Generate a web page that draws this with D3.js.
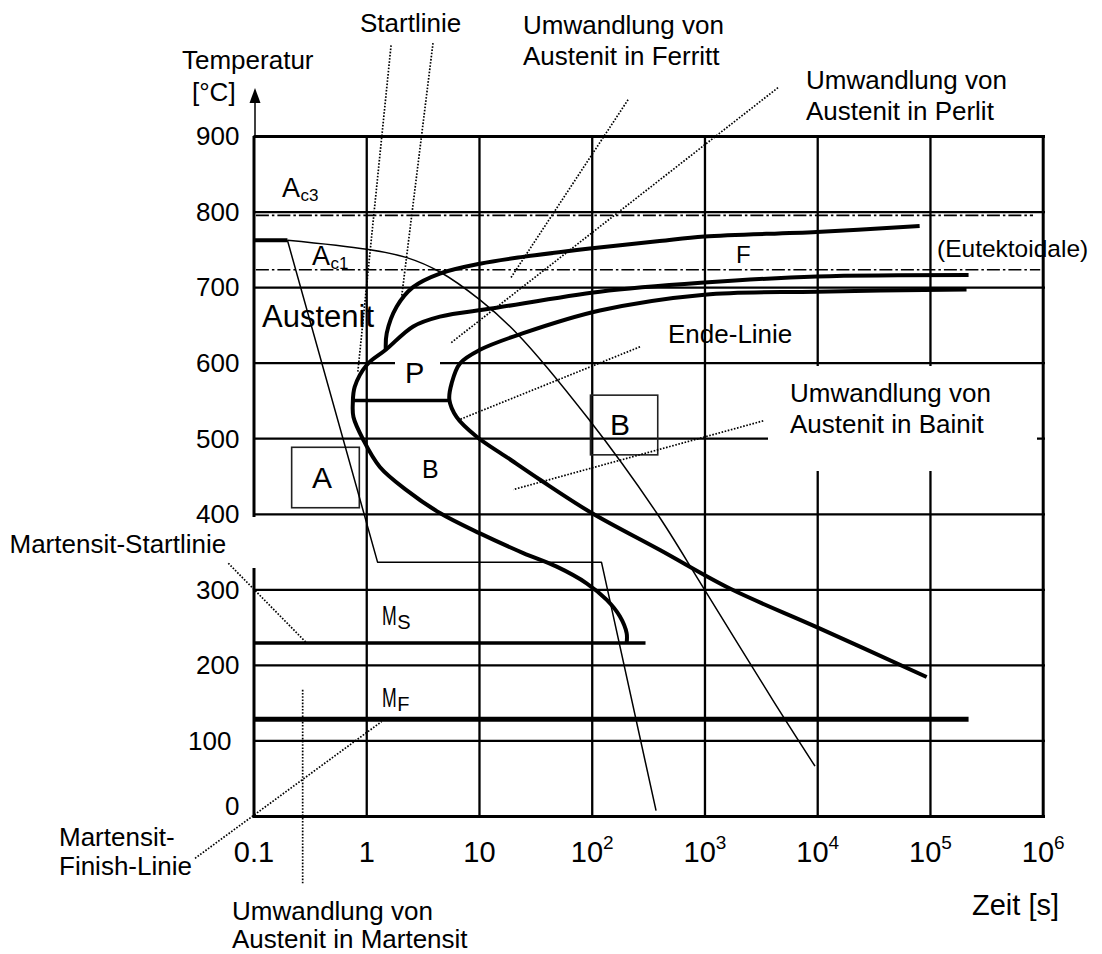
<!DOCTYPE html>
<html>
<head>
<meta charset="utf-8">
<script src="https://cdn.jsdelivr.net/npm/d3@7"></script>
<style>
  html, body { margin: 0; padding: 0; background: #fff; }
  svg text { font-family: "Liberation Sans", Arial, Helvetica, sans-serif; fill: #000; }
</style>
</head>
<body>
<svg id="chart" width="1102" height="954"></svg>
<script>
// ---- axes ----
const timeTicks = [0.1, 1, 10, 100, 1e3, 1e4, 1e5, 1e6];
const timeTickBase = ["0.1", "1", "10", "10", "10", "10", "10", "10"];
const timeTickExp = ["", "", "", "2", "3", "4", "5", "6"];
const tempTicks = [0, 100, 200, 300, 400, 500, 600, 700, 800, 900];

// ---- ZTU curves (time in s, temperature in °C) ----
// start of ferrite formation
const ferritTime = [1.49, 1.52, 1.86, 2.6, 4.5, 10.2, 24.5, 96, 400, 1000, 9900, 81000];
const ferritTemp = [617, 639, 674, 700, 718, 731, 740, 751, 761, 767, 773, 781];
// start line (pearlite above the nose, bainite below)
const startTime = [220000, 9900, 1000, 118, 13.4, 4.5, 2.61, 1.49, 1.01, 0.79, 0.76, 0.77, 0.94, 1.32, 2.29, 4.5, 10.2, 24.7, 48.9, 90, 136, 178, 204, 204];
const startTemp = [716, 714, 706, 694, 672, 661, 648, 617, 597, 568, 546, 528, 498, 462, 431, 401, 374, 348, 330, 308, 286, 264, 242, 229];
// end line
const endTime = [211000, 9900, 1000, 118, 24.7, 10.2, 6.78, 5.73, 5.46, 6.34, 9.55, 17.6, 34.8, 100, 403, 1680, 9900, 93500];
const endTemp = [697, 694, 690, 669, 639, 617, 599, 573, 551, 528, 502, 475, 445, 401, 352, 301, 250, 184];
// boundary between pearlite and bainite region
const noseTime = [0.76, 5.46];
const noseTemp = [550, 550];

// cooling paths
const holdTime = [0.1, 0.2];
const holdTemp = [762, 762];
const coolBTime = [0.2, 1.01, 2.29, 4.51, 10.2, 21.6, 93, 377, 970, 4050, 9550];
const coolBTemp = [762, 750, 739, 720, 683, 639, 526, 401, 303, 153, 66];
const coolATime = [0.2, 1.26, 122, 372];
const coolATemp = [762, 336, 336, 7];

// martensite start / finish
const msTime = [0.1, 300];
const msTemp = [229, 229];
const mfTime = [0.1, 220000];
const mfTemp = [128, 128];

// transformation temperatures (dash-dot)
const refTemps = [795, 723];
const refEnds = [8.2e5, 9.5e5];

// framed region markers
const boxTimeFrom = [0.218, 97.5];
const boxTimeTo = [0.868, 385];
const boxTempLow = [408, 478];
const boxTempHigh = [488, 557];

// dotted leaders (time, temperature)
const leaderFrom = [[1.66, 1020], [3.91, 1023], [210, 948], [4490, 964], [268, 621], [3320, 523], [0.0598, 334.5], [0.0303, -56], [0.273, 167]];
const leaderTo = [[0.84, 586], [2.06, 687], [19.1, 712], [5.61, 626], [6.55, 524], [20.1, 432], [0.296, 229], [1.37, 125], [0.273, -89]];

// ---- scales ----
const x = d3.scaleLog().domain([0.1, 1e6]).range([253.5, 1042.7]);
const y = d3.scaleLinear().domain([0, 900]).range([816, 136]);
const svg = d3.select("#chart");
const FONT = '"Liberation Sans", Arial, Helvetica, sans-serif';

// ---- horizontal grid + temperature labels ----
const yAxis = d3.axisLeft(y).tickValues(tempTicks)
  .tickSizeInner(-(1045 - 253.5)).tickSizeOuter(0).tickPadding(14)
  .tickFormat(d3.format("d"));
const gy = svg.append("g").attr("transform", "translate(253.5,0)").call(yAxis)
  .attr("font-family", FONT).attr("font-size", null);
gy.select(".domain").remove();
gy.selectAll(".tick line").attr("stroke", "#000")
  .attr("stroke-width", d => (d === 0 || d === 900) ? 3 : 2.3);
gy.selectAll(".tick text").attr("font-size", 26).attr("fill", "#000")
  .attr("dx", d => d === 100 ? -8 : 0)
  .attr("dy", d => d === 0 ? "-0.07em" : "0.34em");

// ---- vertical grid + time labels ----
const xAxis = d3.axisBottom(x).tickValues(timeTicks)
  .tickSizeInner(-(816 - 136)).tickSizeOuter(0).tickFormat(() => "");
const gx = svg.append("g").attr("transform", "translate(0,816)").call(xAxis)
  .attr("font-family", FONT).attr("font-size", null);
gx.select(".domain").remove();
gx.selectAll(".tick line").attr("stroke", "#000").attr("y1", 2)
  .attr("stroke-width", d => (d === 0.1 || d === 1e6) ? 3 : 2.3);
gx.selectAll(".tick text").each(function (d, i) {
  const t = d3.select(this).attr("y", 46).attr("dy", 0).attr("font-size", 29).attr("fill", "#000");
  t.append("tspan").text(timeTickBase[i]);
  if (timeTickExp[i]) t.append("tspan").attr("font-size", 19).attr("dy", -13).text(timeTickExp[i]);
});

// temperature axis arrow
svg.append("line").attr("x1", 255).attr("x2", 255).attr("y1", 100).attr("y2", y(900))
  .attr("stroke", "#000").attr("stroke-width", 1.5);
svg.append("path").attr("d", "M255,88 L249.5,103 L260.5,103 Z").attr("fill", "#000");

// ---- white cut-outs behind labels ----
const cut = svg.append("g").attr("fill", "#fff");
cut.append("rect").attr("x", 250).attr("y", 517).attr("width", 8).attr("height", 51);
cut.append("rect").attr("x", 395).attr("y", 358).attr("width", 45).attr("height", 10);
cut.append("rect").attr("x", 768).attr("y", 366).attr("width", 269).attr("height", 105);

// ---- dash-dot transformation lines ----
svg.append("g").selectAll("line").data(refTemps).join("line")
  .attr("x1", x(0.105)).attr("x2", (d, i) => x(refEnds[i]))
  .attr("y1", d => y(d)).attr("y2", d => y(d))
  .attr("stroke", "#000").attr("stroke-width", 1.6)
  .attr("stroke-dasharray", "13,3,2.5,3");

// ---- framed markers ----
svg.append("g").selectAll("rect").data(boxTimeFrom).join("rect")
  .attr("x", (d, i) => x(d)).attr("y", (d, i) => y(boxTempHigh[i]))
  .attr("width", (d, i) => x(boxTimeTo[i]) - x(d))
  .attr("height", (d, i) => y(boxTempLow[i]) - y(boxTempHigh[i]))
  .attr("fill", "none").attr("stroke", "#222").attr("stroke-width", 1.6);

// ---- curves ----
const smooth = d3.line().x(d => x(d[0])).y(d => y(d[1])).curve(d3.curveCatmullRom.alpha(0.5));
const straight = d3.line().x(d => x(d[0])).y(d => y(d[1]));
const curves = svg.append("g").attr("fill", "none").attr("stroke", "#000")
  .attr("stroke-linejoin", "round");

curves.append("path").attr("d", smooth(d3.zip(ferritTime, ferritTemp))).attr("stroke-width", 4);
curves.append("path").attr("d", smooth(d3.zip(startTime, startTemp))).attr("stroke-width", 4);
curves.append("path").attr("d", smooth(d3.zip(endTime, endTemp))).attr("stroke-width", 4);
curves.append("path").attr("d", straight(d3.zip(noseTime, noseTemp))).attr("stroke-width", 3.5);
curves.append("path").attr("d", straight(d3.zip(holdTime, holdTemp))).attr("stroke-width", 4);
curves.append("path").attr("d", straight(d3.zip(msTime, msTemp))).attr("stroke-width", 3.6);
curves.append("path").attr("d", straight(d3.zip(mfTime, mfTemp))).attr("stroke-width", 5);
curves.append("path").attr("d", smooth(d3.zip(coolBTime, coolBTemp))).attr("stroke-width", 1.5);
curves.append("path").attr("d", straight(d3.zip(coolATime, coolATemp))).attr("stroke-width", 1.5);

// ---- dotted leaders ----
svg.append("g").selectAll("line").data(leaderFrom).join("line")
  .attr("x1", d => x(d[0])).attr("y1", d => y(d[1]))
  .attr("x2", (d, i) => x(leaderTo[i][0])).attr("y2", (d, i) => y(leaderTo[i][1]))
  .attr("stroke", "#000").attr("stroke-width", 1.7).attr("stroke-dasharray", "1.6,1.6");

// ---- text ----
const labels = [
  { x: 182, y: 69, s: 26, t: "Temperatur" },
  { x: 192, y: 101, s: 26, t: "[°C]" },
  { x: 360, y: 32, s: 26, t: "Startlinie" },
  { x: 523, y: 34, s: 26, t: "Umwandlung von" },
  { x: 523, y: 65, s: 26, t: "Austenit in Ferritt" },
  { x: 806, y: 89, s: 26, t: "Umwandlung von" },
  { x: 806, y: 120, s: 26, t: "Austenit in Perlit" },
  { x: 262, y: 327, s: 31, t: "Austenit" },
  { x: 405, y: 383, s: 29, t: "P" },
  { x: 736, y: 263, s: 24, t: "F" },
  { x: 937, y: 257, s: 24.5, t: "(Eutektoidale)" },
  { x: 668, y: 343, s: 26, t: "Ende-Linie" },
  { x: 790, y: 402, s: 26, t: "Umwandlung von" },
  { x: 790, y: 433, s: 26, t: "Austenit in Bainit" },
  { x: 610, y: 435, s: 30, t: "B" },
  { x: 312, y: 488, s: 30, t: "A" },
  { x: 422, y: 478, s: 25, t: "B" },
  { x: 9.5, y: 553, s: 26, t: "Martensit-Startlinie" },
  { x: 59, y: 846, s: 26, t: "Martensit-" },
  { x: 59, y: 875, s: 26, t: "Finish-Linie" },
  { x: 232, y: 920, s: 26, t: "Umwandlung von" },
  { x: 232, y: 948, s: 26, t: "Austenit in Martensit" },
  { x: 972, y: 915, s: 29, t: "Zeit [s]" }
];
svg.append("g").selectAll("text").data(labels).join("text")
  .attr("x", d => d.x).attr("y", d => d.y).attr("font-size", d => d.s).text(d => d.t);

// labels with subscripts (M is set condensed)
const subLabels = [
  { x: 282, y: 197, s: 27, main: "A", sub: "c3", ss: 17, sx: 1 },
  { x: 312, y: 265, s: 27, main: "A", sub: "c1", ss: 17, sx: 1 },
  { x: 382, y: 625, s: 28, main: "M", sub: "S", ss: 20, sx: 0.63 },
  { x: 382, y: 707, s: 28, main: "M", sub: "F", ss: 20, sx: 0.63 }
];
subLabels.forEach(d => {
  const g = svg.append("g").attr("transform", `translate(${d.x},${d.y})`);
  const m = g.append("text").attr("font-size", d.s)
    .attr("transform", `scale(${d.sx},1)`).text(d.main);
  const w = m.node().getComputedTextLength() * d.sx;
  g.append("text").attr("x", w + 0.5).attr("y", 3.5).attr("font-size", d.ss).text(d.sub);
});
</script>
</body>
</html>
